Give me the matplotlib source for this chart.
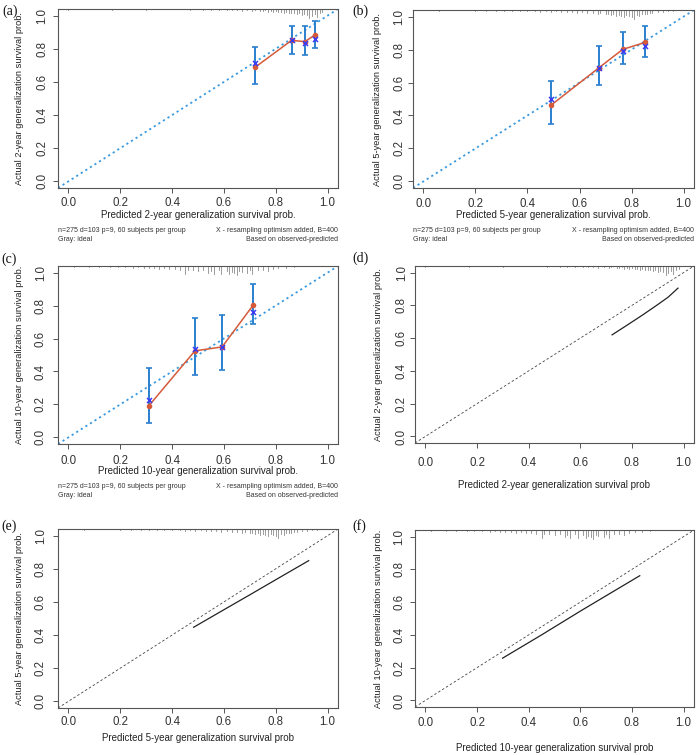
import numpy as np
import matplotlib.pyplot as plt
from matplotlib.transforms import blended_transform_factory

plt.rcParams['font.family'] = ['Liberation Sans', 'DejaVu Sans']

W, H = 697, 755

# ---- calibration data (a)-(c): bootstrap calibrate plots ----
pred_a = [0.72, 0.861, 0.912, 0.951]
obs_a = [0.688, 0.851, 0.843, 0.883]
corr_a = [0.714, 0.855, 0.833, 0.859]
lo_a = [0.588, 0.771, 0.765, 0.805]
hi_a = [0.809, 0.940, 0.940, 0.966]

pred_b = [0.491, 0.675, 0.766, 0.851]
obs_b = [0.463, 0.690, 0.801, 0.843]
corr_b = [0.499, 0.686, 0.791, 0.819]
lo_b = [0.348, 0.584, 0.710, 0.755]
hi_b = [0.612, 0.819, 0.909, 0.942]

pred_c = [0.310, 0.488, 0.593, 0.713]
obs_c = [0.191, 0.525, 0.549, 0.803]
corr_c = [0.227, 0.539, 0.549, 0.763]
lo_c = [0.089, 0.378, 0.408, 0.690]
hi_c = [0.419, 0.726, 0.744, 0.932]

# ---- calibration curves (d)-(f) ----
curve_d_x = [0.723, 0.78, 0.84, 0.90, 0.94, 0.978]
curve_d_y = [0.620, 0.678, 0.740, 0.805, 0.850, 0.905]
curve_e_x = [0.483, 0.60, 0.70, 0.80, 0.927]
curve_e_y = [0.447, 0.553, 0.643, 0.734, 0.849]
curve_f_x = [0.299, 0.45, 0.60, 0.75, 0.830]
curve_f_y = [0.258, 0.400, 0.545, 0.686, 0.761]

# ---- rug of predicted probabilities (position, relative length) ----
rug_2y_x = [0.0, 0.17, 0.30, 0.47, 0.52, 0.55, 0.58, 0.61, 0.63, 0.65, 0.67, 0.69,
            0.71, 0.72, 0.74, 0.75, 0.76, 0.77, 0.78, 0.79, 0.80, 0.81, 0.82, 0.83,
            0.84, 0.85, 0.86, 0.87, 0.88, 0.89, 0.90, 0.91, 0.92, 0.93, 0.94, 0.95,
            0.96, 0.97, 0.98]
rug_2y_h = [0.1, 0.1, 0.1, 0.15, 0.1, 0.1, 0.15, 0.1, 0.15, 0.1, 0.2, 0.15,
            0.2, 0.1, 0.25, 0.2, 0.15, 0.3, 0.2, 0.3, 0.25, 0.35, 0.3, 0.4,
            0.35, 0.45, 0.5, 0.4, 0.6, 0.5, 0.65, 0.55, 0.7, 1.0, 0.8, 0.6,
            0.9, 0.5, 0.3]
rug_5y_x = [0.06, 0.20, 0.24, 0.28, 0.31, 0.34, 0.37, 0.40, 0.43, 0.45, 0.47, 0.49,
            0.51, 0.53, 0.55, 0.57, 0.59, 0.61, 0.63, 0.65, 0.67, 0.68, 0.70, 0.71,
            0.72, 0.73, 0.74, 0.75, 0.76, 0.77, 0.78, 0.79, 0.80, 0.81, 0.82, 0.83,
            0.84, 0.85, 0.86, 0.87, 0.88, 0.90, 0.92, 0.94, 0.96]
rug_5y_h = [0.1, 0.1, 0.1, 0.15, 0.1, 0.15, 0.1, 0.15, 0.1, 0.2, 0.15, 0.2,
            0.15, 0.2, 0.25, 0.2, 0.3, 0.25, 0.35, 0.3, 0.4, 0.3, 0.5, 0.45,
            0.6, 0.5, 0.7, 0.55, 0.65, 0.8, 0.6, 0.7, 0.75, 1.0, 0.6, 0.7,
            0.5, 0.45, 0.4, 0.35, 0.3, 0.25, 0.2, 0.15, 0.1]
rug_10y_x = [0.02, 0.08, 0.12, 0.16, 0.19, 0.22, 0.25, 0.27, 0.29, 0.31, 0.33, 0.35,
             0.37, 0.39, 0.41, 0.43, 0.45, 0.46, 0.48, 0.50, 0.52, 0.54, 0.55, 0.56,
             0.58, 0.59, 0.61, 0.62, 0.63, 0.64, 0.65, 0.66, 0.67, 0.69, 0.70, 0.71,
             0.73, 0.75, 0.77, 0.79, 0.81, 0.84, 0.87]
rug_10y_h = [0.1, 0.1, 0.15, 0.1, 0.15, 0.1, 0.2, 0.15, 0.2, 0.25, 0.2, 0.3,
             0.25, 0.35, 0.3, 0.4, 0.9, 0.5, 0.4, 0.55, 0.5, 0.8, 0.6, 0.9,
             0.5, 0.85, 0.6, 0.95, 0.7, 0.8, 1.0, 0.6, 0.7, 0.8, 0.5, 0.9,
             0.4, 0.5, 0.6, 0.3, 0.25, 0.2, 0.15]

panel_layout = {
    # label: (left, top, right, bottom) in pixels
    'a': (58, 9, 338, 188),
    'b': (413, 10, 694, 188),
    'c': (58, 266, 338, 444),
    'd': (415, 266, 694, 443),
    'e': (58, 529, 338, 708),
    'f': (415, 530, 694, 707),
}

blue_bar = '#2a7fcf'
blue_x = '#3b3bf5'
red = '#d45a3a'
ideal_blue = '#3a9ae0'
frame = '#555555'
xlabel_size = 7.0
ylabel_size = 6.7
tick_size = 8.3

fig = plt.figure(figsize=(W / 100, H / 100), dpi=100)


def make_axes(key):
    l, t, r, b = panel_layout[key]
    ax = fig.add_axes([l / W, 1 - b / H, (r - l) / W, (b - t) / H])
    ax.set_xlim(-0.04, 1.04)
    ax.set_ylim(-0.04, 1.04)
    ticks = [0.0, 0.2, 0.4, 0.6, 0.8, 1.0]
    ax.set_xticks(ticks)
    ax.set_yticks(ticks)
    ax.set_xticklabels(['%.1f' % v for v in ticks])
    ax.set_yticklabels(['%.1f' % v for v in ticks], rotation=90, va='center')
    ax.tick_params(direction='out', length=3.6, width=0.7, colors=frame,
                   labelsize=tick_size, labelcolor='#333333')
    for s in ax.spines.values():
        s.set_color(frame)
        s.set_linewidth(0.8)
    return ax, (b - t), (r - l)


def add_rug(ax, xs, hs):
    trans = blended_transform_factory(ax.transData, ax.transAxes)
    for x, h in zip(xs, hs):
        ax.plot([x, x], [1.0, 1.0 - 0.05 * h], color='#8c8c8c', lw=0.6,
                transform=trans, clip_on=False)


def boot_panel(key, pred, obs, corr, lo, hi, rug_x, rug_h, years, tick_pad, ylab_px, ytick_px):
    ax, hpx, wpx = make_axes(key)
    ax.plot([-0.04, 1.04], [-0.04, 1.04], color=ideal_blue, lw=1.3,
            linestyle=(0, (1.2, 1.8)))
    add_rug(ax, rug_x, rug_h)
    ax.errorbar(pred, obs, yerr=[np.array(obs) - np.array(lo), np.array(hi) - np.array(obs)],
                fmt='none', ecolor=blue_bar, elinewidth=1.4, capsize=2.4, capthick=1.2)
    ax.plot(pred, obs, color=red, lw=1.1)
    ax.plot(pred, obs, 'o', color=red, ms=3.0)
    ax.plot(pred, corr, 'x', color=blue_x, ms=3.6, mew=1.1)
    ax.tick_params(axis='x', pad=tick_pad)
    ax.tick_params(axis='y', pad=ytick_px * 0.72 - 7.5)
    ax.set_xlabel('Predicted %s-year generalization survival prob.' % years,
                  fontsize=xlabel_size, color='#222222', va='center')
    ax.xaxis.set_label_coords(0.5, -27.5 / hpx)
    ax.set_ylabel('Actual %s-year generalization survival prob.' % years,
                  fontsize=ylabel_size, color='#222222', va='center')
    ax.yaxis.set_label_coords(-ylab_px / wpx, 0.5)
    foot = dict(transform=ax.transAxes, fontsize=5.0, color='#333333', va='center')
    ax.text(0.0, -43 / hpx, 'n=275 d=103 p=9, 60 subjects per group', ha='left', **foot)
    ax.text(0.0, -51.5 / hpx, 'Gray: ideal', ha='left', **foot)
    ax.text(1.0, -43 / hpx, 'X - resampling optimism added, B=400', ha='right', **foot)
    ax.text(1.0, -51.5 / hpx, 'Based on observed-predicted', ha='right', **foot)
    return ax


def curve_panel(key, cx, cy, rug_x, rug_h, years, tick_pad, xlab_px, ylab_px, ytick_px):
    ax, hpx, wpx = make_axes(key)
    ax.plot([-0.04, 1.04], [-0.04, 1.04], color='#444444', lw=0.6,
            linestyle=(0, (3, 2.5)))
    add_rug(ax, rug_x, rug_h)
    ax.plot(cx, cy, color='#222222', lw=0.9)
    ax.tick_params(axis='x', pad=tick_pad)
    ax.tick_params(axis='y', pad=ytick_px * 0.72 - 7.5)
    ax.set_xlabel('Predicted %s-year generalization survival prob' % years,
                  fontsize=xlabel_size, color='#222222', va='center')
    ax.xaxis.set_label_coords(0.5, -xlab_px / hpx)
    ax.set_ylabel('Actual %s-year generalization survival prob.' % years,
                  fontsize=ylabel_size, color='#222222', va='center')
    ax.yaxis.set_label_coords(-ylab_px / wpx, 0.5)
    return ax


boot_panel('a', pred_a, obs_a, corr_a, lo_a, hi_a, rug_2y_x, rug_2y_h, '2', 3.0, 38, 15)
boot_panel('b', pred_b, obs_b, corr_b, lo_b, hi_b, rug_5y_x, rug_5y_h, '5', 3.5, 35, 13)
boot_panel('c', pred_c, obs_c, corr_c, lo_c, hi_c, rug_10y_x, rug_10y_h, '10', 4.5, 38, 16.5)
curve_panel('d', curve_d_x, curve_d_y, rug_2y_x, rug_2y_h, '2', 6.5, 42, 37, 12.7)
curve_panel('e', curve_e_x, curve_e_y, rug_5y_x, rug_5y_h, '5', 2.0, 30, 38, 16.5)
curve_panel('f', curve_f_x, curve_f_y, rug_10y_x, rug_10y_h, '10', 3.5, 41, 37, 15)

# panel letters
letters = {'a': (2, 11), 'b': (352, 11), 'c': (1, 259), 'd': (352, 258),
           'e': (1, 526), 'f': (352, 526)}
for k, (px, py) in letters.items():
    fig.text(px / W, 1 - py / H, '(%s)' % k, fontsize=10, family='Liberation Serif',
             ha='left', va='center', color='#111111')

fig.savefig('out.png', dpi=100)
